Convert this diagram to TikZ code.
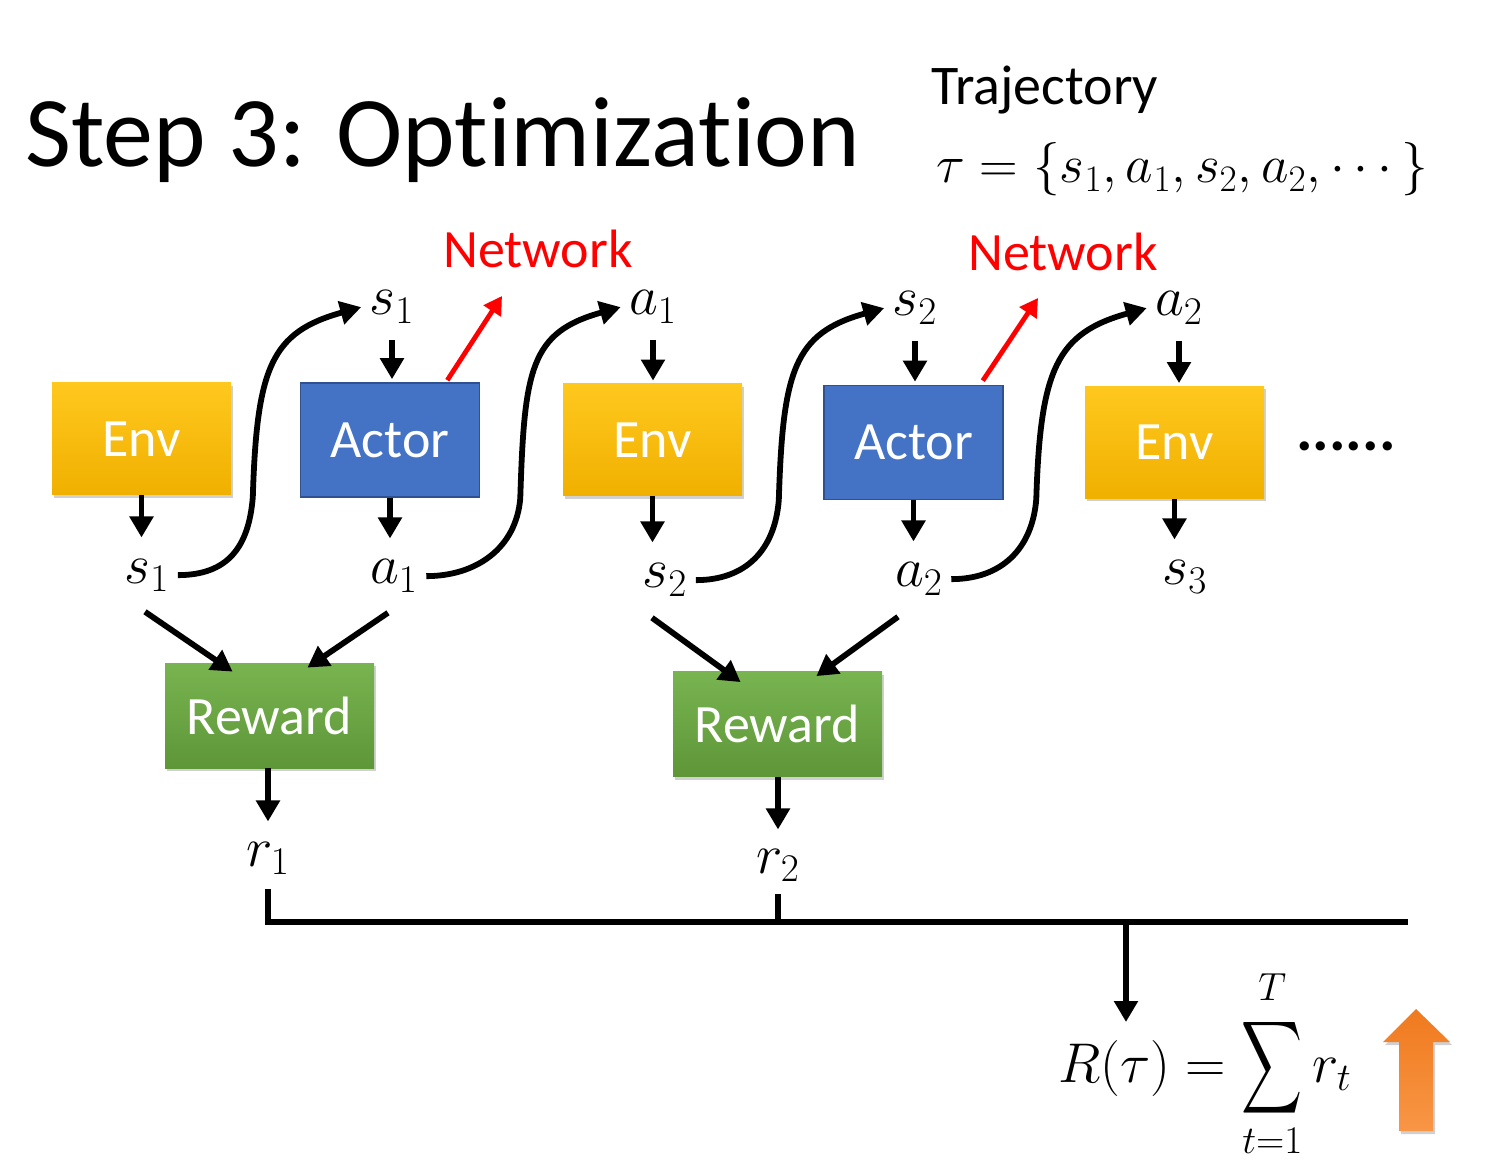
\documentclass[tikz,border=0pt]{standalone}
\usepackage{fontspec}
\setmainfont{Carlito}[Ligatures=NoCommon]
\usepackage{amsmath}
\usepackage{graphicx}
\DeclareFontShape{OML}{cmm}{m}{it}{<-6>cmmi5<6-7>cmmi6<7-8>cmmi7<8-9>cmmi8<9-10>cmmi9<10-12>cmmi10<12->cmmi12}{}
\DeclareFontShape{OMS}{cmsy}{m}{n}{<-6>cmsy5<6-7>cmsy6<7-8>cmsy7<8-9>cmsy8<9-10>cmsy9<10->cmsy10}{}
\DeclareFontShape{OT1}{cmr}{m}{n}{<-6>cmr5<6-7>cmr6<7-8>cmr7<8-9>cmr8<9-10>cmr9<10-12>cmr10<12-17>cmr12<17->cmr17}{}
\usetikzlibrary{arrows.meta,shadows,calc}
\definecolor{envtop}{RGB}{255,200,30}
\definecolor{envbot}{RGB}{240,176,0}
\definecolor{actfill}{RGB}{68,114,196}
\definecolor{actdraw}{RGB}{47,82,143}
\definecolor{rewtop}{RGB}{120,180,80}
\definecolor{rewbot}{RGB}{94,150,56}
\definecolor{orgtop}{RGB}{240,122,30}
\definecolor{orgbot}{RGB}{248,150,70}
\definecolor{netred}{RGB}{255,0,0}
\tikzset{
  softshadow/.style={drop shadow={shadow xshift=1pt,shadow yshift=-1.5pt,opacity=.3,fill=black!60}},
  box/.style={minimum width=89.5pt, minimum height=56pt, inner sep=0pt, text=white,
    font=\fontsize{27}{32}\selectfont},
  envbox/.style={box, top color=envtop, bottom color=envbot, softshadow},
  actbox/.style={box, fill=actfill, draw=actdraw, line width=0.8pt, minimum height=57pt},
  rewbox/.style={box, minimum width=104.5pt, minimum height=52.5pt, top color=rewtop, bottom color=rewbot, softshadow},
  lbl/.style={font=\fontsize{28}{32}\selectfont, inner sep=4pt, anchor=base},
  netlbl/.style={font=\fontsize{27}{32}\selectfont, text=netred, inner sep=0pt, anchor=base},
  arr/.style={line width=2.9pt, -{Triangle[length=10.5pt,width=11.5pt]}},
  redarr/.style={line width=2.4pt, draw=netred, -{Triangle[length=9pt,width=10pt]}, color=netred},
  busline/.style={line width=2.9pt}
}
\begin{document}
\begin{tikzpicture}[x=0.5pt,y=-0.5pt]
\useasboundingbox (0,0) rectangle (1495,1171);
\fill[white] (0,0) rectangle (1495,1171);

% title and trajectory
\node[anchor=base west, inner sep=0pt, font=\fontsize{50}{60}\selectfont] (title) at (25,167) {Step 3: Optimization};
\node[anchor=base west, inner sep=0pt, font=\fontsize{28}{34}\selectfont] (traj) at (931,105) {Trajectory};
\node[anchor=base west, inner sep=0pt, font=\fontsize{26.7}{32}\selectfont] (tau) at (936,183) {$\tau=\{s_1,a_1,s_2,a_2,\cdots\}$};

% boxes
\node[envbox] (env1) at (141.5,439) {Env};
\node[actbox] (act1) at (390,440) {Actor};
\node[envbox] (env2) at (652.5,440) {Env};
\node[actbox] (act2) at (913.5,442.5) {Actor};
\node[envbox] (env3) at (1174.5,442.5) {Env};
\node[anchor=base, inner sep=0pt, font=\fontsize{31}{34}\selectfont\bfseries] (dots) at (1346,451) {......};
\node[rewbox] (rew1) at (269.5,715.5) {Reward};
\node[rewbox] (rew2) at (777.5,724) {Reward};

% network labels
\node[netlbl] (net1) at (538,268) {Network};
\node[netlbl] (net2) at (1063,271) {Network};

% top labels
\node[lbl] (s1t) at (392,315) {$s_1$};
\node[lbl] (a1t) at (653,315) {$a_1$};
\node[lbl] (s2t) at (915,316) {$s_2$};
\node[lbl] (a2t) at (1179,316) {$a_2$};

% bottom labels
\node[lbl] (s1b) at (147,583) {$s_1$};
\node[lbl] (a1b) at (394,584) {$a_1$};
\node[lbl] (s2b) at (665,588) {$s_2$};
\node[lbl] (a2b) at (919,587) {$a_2$};
\node[lbl] (s3b) at (1185,585) {$s_3$};

% rewards
\node[lbl] (r1) at (268,866) {$r_1$};
\node[lbl] (r2) at (778,873) {$r_2$};

% formula
\node[anchor=base west, inner sep=0pt, font=\fontsize{28}{32}\selectfont] (Rf) at (1058,1082)
  {$R(\tau)=\mathop{\vcenter{\hbox{\scalebox{0.85}[1.3]{$\displaystyle\sum$}}}}\limits_{t=1}^{\raisebox{3pt}{$\scriptstyle T$}} r_t$};

% top arrows into boxes
\draw[arr, shorten <=4pt, shorten >=1.5pt] (s1t.south) -- (s1t.south |- act1.north);
\draw[arr, shorten <=4pt, shorten >=1.5pt] (a1t.south) -- (a1t.south |- env2.north);
\draw[arr, shorten <=4pt, shorten >=1.5pt] (s2t.south) -- (s2t.south |- act2.north);
\draw[arr, shorten <=4pt, shorten >=1.5pt] (a2t.south) -- (a2t.south |- env3.north);

% bottom arrows out of boxes
\draw[arr, shorten >=6.5pt] (env1.south) -- (env1.south |- s1b.north);
\draw[arr, shorten >=6.5pt] (act1.south) -- (act1.south |- a1b.north);
\draw[arr, shorten >=6.5pt] (env2.south) -- (env2.south |- s2b.north);
\draw[arr, shorten >=6.5pt] (act2.south) -- (act2.south |- a2b.north);
\draw[arr, shorten >=6.5pt] (env3.south) -- (env3.south |- s3b.north);

% S-curves
\draw[arr] (s1b.east) .. controls +(50,0) and +(-4,50) .. ++(75,-78) .. controls +(4,-130) and +(-90,25) .. (s1t.west);
\draw[arr] (a1b.east) .. controls +(50,0) and +(-4,50) .. ++(94,-78) .. controls +(4,-130) and +(-90,25) .. (a1t.west);
\draw[arr] (s2b.east) .. controls +(50,0) and +(-4,50) .. ++(83,-80) .. controls +(4,-130) and +(-90,25) .. (s2t.west);
\draw[arr] (a2b.east) .. controls +(50,0) and +(-4,50) .. ++(85,-80) .. controls +(4,-130) and +(-90,25) .. (a2t.west);

% red network arrows
\coordinate (n1end) at (502,296);
\coordinate (n2end) at (1038,298);
\draw[redarr] ($(act1.north east)+(-33,-2)$) -- (n1end);
\draw[redarr] ($(act2.north east)+(-21,-4)$) -- (n2end);

% diagonal arrows into reward boxes
\draw[arr] ($(s1b.south)+(-2,12)$) -- ($(rew1.north west)+(68,9)$);
\draw[arr] ($(a1b.south)+(-6,12)$) -- ($(rew1.north east)+(-67,5)$);
\draw[arr] ($(s2b.south)+(-13,13)$) -- ($(rew2.north west)+(68,11)$);
\draw[arr] ($(a2b.south)+(-21,13)$) -- ($(rew2.north east)+(-66,5)$);

% reward outputs
\draw[arr, shorten >=6pt] (r1.north |- rew1.south) -- (r1.north);
\draw[arr, shorten >=5.5pt] (r2.north |- rew2.south) -- (r2.north);

% bus
\coordinate (busR) at (1408,922);
\coordinate (busJ) at (1126,922);
\coordinate (Rin) at (1126,1022);
\draw[busline, shorten <=3pt] (r1.south) -- (r1.south |- busR) -- (busR);
\draw[busline, shorten <=2pt] (r2.south) -- (r2.south |- busR);
\draw[arr] (busJ) -- (Rin);

% orange up arrow
\path[top color=orgtop, bottom color=orgbot, softshadow]
  (1416,1009) -- (1450,1042) -- (1433,1042) -- (1433,1131) -- (1399,1131) -- (1399,1042) -- (1383,1042) -- cycle;
\end{tikzpicture}
\end{document}
